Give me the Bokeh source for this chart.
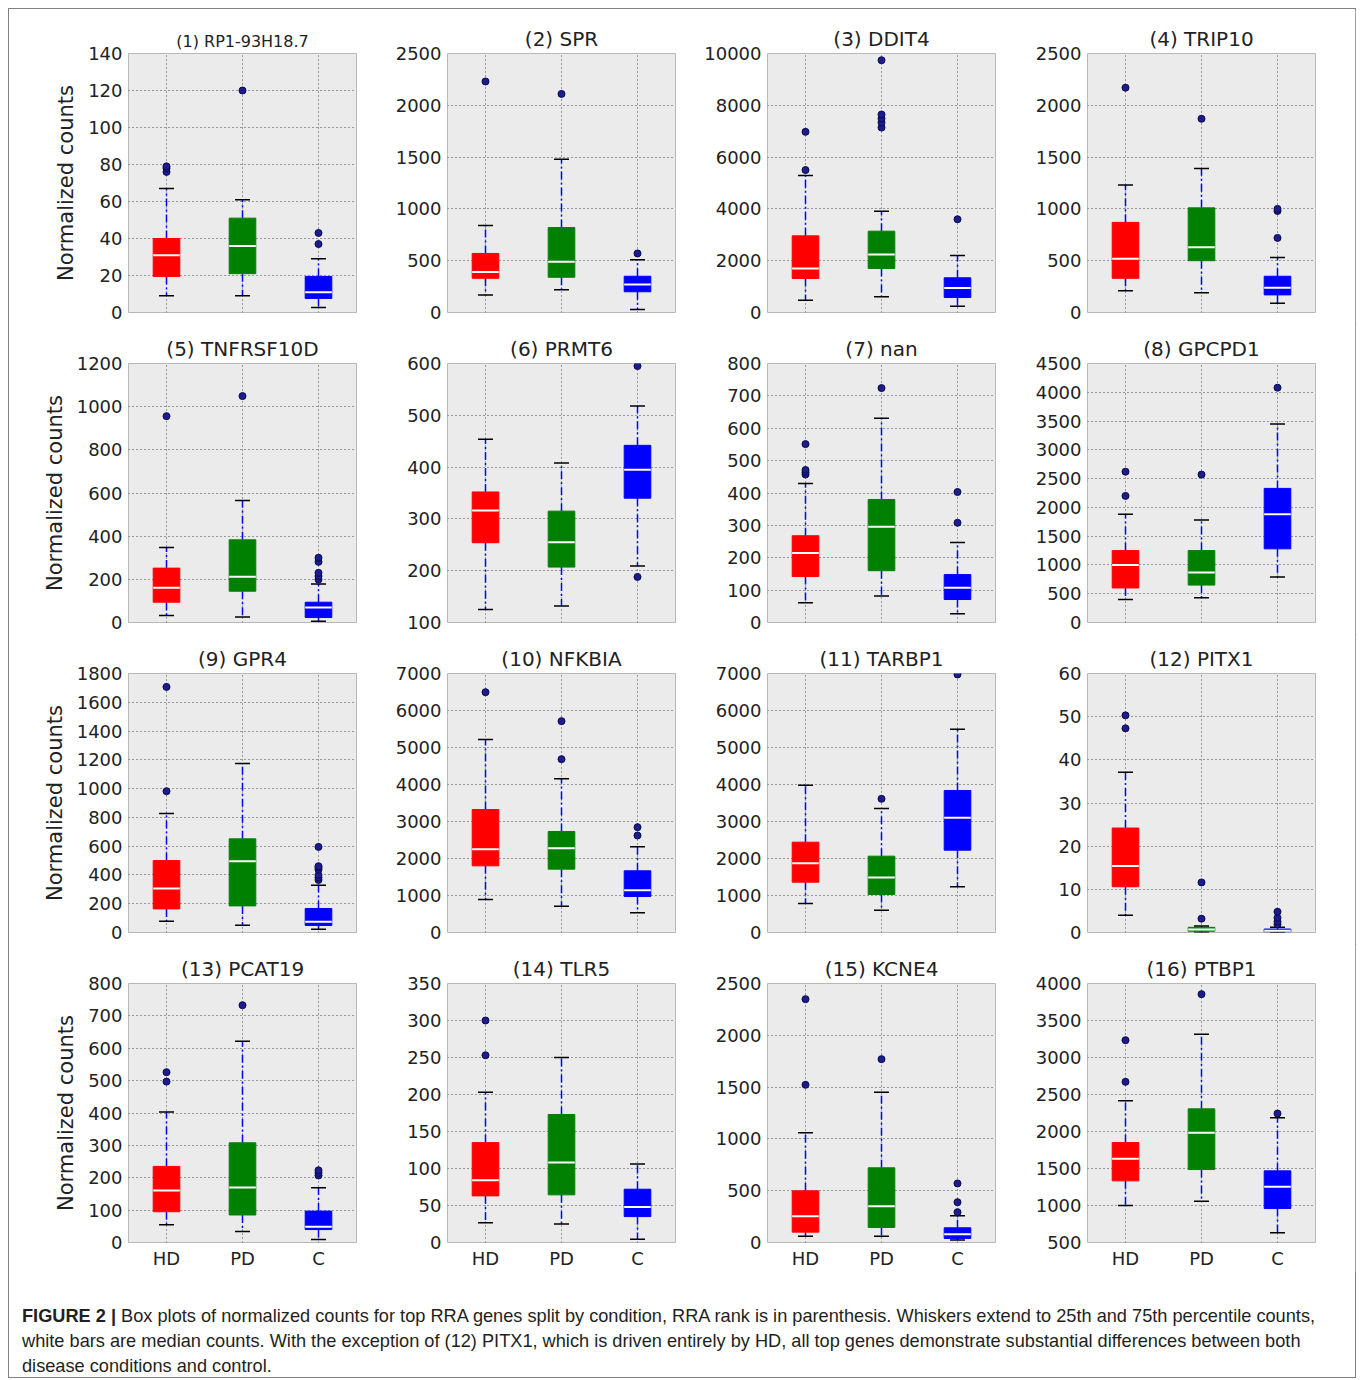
from bokeh.plotting import figure
from bokeh.layouts import row, column
from bokeh.models import Div, FactorRange, FixedTicker, ColumnDataSource
from bokeh.transform import dodge
from bokeh.embed import file_html
from bokeh.resources import INLINE

conditions = ["HD", "PD", "C"]
box_colors = ["#ff0000", "#008000", "#0000ff"]

titles = ["(1) RP1-93H18.7", "(2) SPR", "(3) DDIT4", "(4) TRIP10",
          "(5) TNFRSF10D", "(6) PRMT6", "(7) nan", "(8) GPCPD1",
          "(9) GPR4", "(10) NFKBIA", "(11) TARBP1", "(12) PITX1",
          "(13) PCAT19", "(14) TLR5", "(15) KCNE4", "(16) PTBP1"]

y_min = [0, 0, 0, 0, 0, 100, 0, 0, 0, 0, 0, 0, 0, 0, 0, 500]
y_max = [140, 2500, 10000, 2500, 1200, 600, 800, 4500, 1800, 7000, 7000, 60, 800, 350, 2500, 4000]
y_step = [20, 500, 2000, 500, 200, 100, 100, 500, 200, 1000, 1000, 10, 100, 50, 500, 500]

# per panel: [HD, PD, C]
whisker_low = [[9, 9, 2.7], [170, 220, 30], [476, 605, 245], [210, 190, 90],
               [32, 26, 6], [125, 132, 209], [61, 82, 27], [400, 430, 790],
               [79, 51, 23], [892, 712, 532], [784, 604, 1234], [4, 0, 0],
               [55, 34, 9], [26.6, 25, 4.5], [61, 61, 23], [1000, 1059, 631]]
q1 = [[19.5, 21, 7.6], [330, 340, 200], [1313, 1700, 580], [330, 500, 170],
      [94, 145, 23], [254, 207, 340], [142, 160, 71], [600, 650, 1280],
      [164, 185, 49], [1802, 1712, 973], [1360, 1027, 2225], [10.6, 0.3, 0.15],
      [95, 85, 40], [63, 64.4, 35], [100, 145, 39], [1333, 1486, 959]]
median = [[31, 36, 11], [390, 490, 270], [1700, 2240, 950], [520, 630, 240],
          [161, 212, 70], [316, 255, 395], [215, 296, 107], [1000, 870, 1880],
          [306, 496, 74], [2252, 2279, 1144], [1874, 1486, 3099], [15.4, 0.7, 0.4],
          [161, 170, 49], [84, 108, 48], [254, 351, 80], [1631, 1982, 1252]]
q3 = [[40, 51, 19.5], [570, 820, 350], [2960, 3140, 1340], [870, 1010, 350],
      [252, 383, 94], [352, 315, 442], [268, 380, 148], [1250, 1250, 2330],
      [500, 651, 167], [3324, 2730, 1667], [2441, 2063, 3838], [24.2, 1.2, 0.8],
      [235, 308, 97], [135, 173, 72], [499, 721, 142], [1851, 2306, 1468]]
whisker_high = [[67, 61, 29], [840, 1480, 510], [5290, 3910, 2200], [1230, 1390, 530],
                [347, 565, 178], [454, 408, 518], [429, 631, 247], [1880, 1780, 3450],
                [827, 1174, 329], [5216, 4153, 2315], [3982, 3351, 5495], [37.1, 1.5, 1.2],
                [403, 622, 169], [203, 250, 106], [1059, 1451, 257], [2414, 3315, 2185]]
outliers = [
    [[76, 78, 79], [120], [37, 43]],
    [[2230], [2110], [570]],
    [[5500, 6975], [7140, 7335, 7490, 7645, 9740], [3600]],
    [[2170], [1870], [720, 980, 1000]],
    [[956], [1049], [199, 215, 230, 281, 300]],
    [[], [], [188, 595]],
    [[457, 464, 471, 551], [724], [308, 403]],
    [[2200, 2620], [2570], [4080]],
    [[982, 1707], [], [365, 382, 400, 438, 452, 461, 595]],
    [[6495], [4685, 5712], [2622, 2847]],
    [[], [3613], [6973]],
    [[47.3, 50.3], [3.2, 11.6], [1.9, 2.5, 3.4, 4.8]],
    [[497, 526], [733], [207, 215, 223]],
    [[253, 300], [], []],
    [[1522, 2349], [1770], [293, 389, 570]],
    [[2671, 3234], [3856], [2243]],
]

FONT = "DejaVu Sans"
TEXT = "#222222"

figs = []
for i in range(16):
    r, c = divmod(i, 4)
    p = figure(
        x_range=FactorRange(*conditions),
        y_range=(y_min[i], y_max[i]),
        frame_width=229, frame_height=259,
        min_border_left=119 if c == 0 else 89,
        min_border_right=40 if c == 3 else 2,
        min_border_top=44 if r == 0 else 39,
        min_border_bottom=30 if r == 3 else 12,
        output_backend="svg", toolbar_location=None,
        title=titles[i],
        background_fill_color="#ebebeb",
        border_fill_color="#ffffff",
        outline_line_color="#b8b8b8",
    )
    p.title.align = "center"
    p.title.text_font = FONT
    p.title.text_font_style = "normal"
    p.title.text_color = TEXT
    p.title.text_font_size = "16px" if i == 0 else "20px"
    p.title.standoff = 6

    ticks = list(range(y_min[i], y_max[i] + 1, y_step[i]))
    p.yaxis.ticker = FixedTicker(ticks=ticks)
    p.ygrid.ticker = FixedTicker(ticks=ticks)
    p.grid.grid_line_color = "#333333"
    p.grid.grid_line_dash = "1 3"
    p.grid.grid_line_width = 1
    p.grid.grid_line_alpha = 0.9

    p.axis.axis_line_color = None
    p.axis.major_tick_line_color = None
    p.axis.minor_tick_line_color = None
    p.axis.major_tick_out = 0
    p.axis.major_tick_in = 0
    p.axis.minor_tick_out = 0
    p.axis.minor_tick_in = 0
    p.axis.major_label_text_font = FONT
    p.axis.major_label_text_font_size = "18px"
    p.axis.major_label_text_color = TEXT
    p.axis.major_label_standoff = 6
    if c == 0:
        p.yaxis.axis_label = "Normalized counts"
        p.yaxis.axis_label_text_font = FONT
        p.yaxis.axis_label_text_font_size = "21px"
        p.yaxis.axis_label_text_font_style = "normal"
        p.yaxis.axis_label_text_color = TEXT
        p.yaxis.axis_label_standoff = 7
    if r < 3:
        p.xaxis.visible = False
    else:
        p.xaxis.major_label_text_font_size = "18px"
        p.xaxis.major_label_standoff = 5

    src = ColumnDataSource(dict(
        cond=conditions, color=box_colors,
        lo=whisker_low[i], q1=q1[i], med=median[i], q3=q3[i], hi=whisker_high[i],
    ))
    p.segment(x0="cond", y0="q3", x1="cond", y1="hi", source=src,
              line_color="#0000ff", line_width=1.5, line_dash="8 3 2 3")
    p.segment(x0="cond", y0="q1", x1="cond", y1="lo", source=src,
              line_color="#0000ff", line_width=1.5, line_dash="8 3 2 3")
    p.vbar(x="cond", width=0.35, bottom="q1", top="q3", source=src,
           fill_color="color", line_color="color", line_width=1)
    p.scatter(x="cond", y="lo", source=src, marker="dash", size=15,
              line_color="black", line_width=1.5)
    p.scatter(x="cond", y="hi", source=src, marker="dash", size=15,
              line_color="black", line_width=1.5)
    p.segment(x0=dodge("cond", -0.175, range=p.x_range), y0="med",
              x1=dodge("cond", 0.175, range=p.x_range), y1="med",
              source=src, line_color="#ffffff", line_width=2)

    ox, oy = [], []
    for k, cond in enumerate(conditions):
        for v in outliers[i][k]:
            ox.append(cond)
            oy.append(v)
    if ox:
        p.scatter(x=ox, y=oy, size=7, fill_color="#1c1c8c", line_color="#0a0a50", line_width=1)
    figs.append(p)

caption_html = (
    '<div style="font-family: \'Liberation Sans\', Arial, sans-serif; font-size:18.2px; '
    'line-height:25px; color:#231f20; padding:27px 0 0 8px; white-space:nowrap;">'
    '<b>FIGURE 2 |</b> Box plots of normalized counts for top RRA genes split by condition, '
    'RRA rank is in parenthesis. Whiskers extend to 25th and 75th percentile counts,<br>'
    'white bars are median counts. With the exception of (12) PITX1, which is driven entirely '
    'by HD, all top genes demonstrate substantial differences between both<br>'
    'disease conditions and control.</div>'
)
caption = Div(text=caption_html, width=1346, height=105)

layout = column(
    row(*figs[0:4]), row(*figs[4:8]), row(*figs[8:12]), row(*figs[12:16]),
    caption,
    width=1348, height=1370,
    styles={"border": "1px solid #808080", "margin": "8px 0 0 8px",
            "box-sizing": "border-box"},
)

open("out.html", "w").write(file_html(layout, INLINE))
